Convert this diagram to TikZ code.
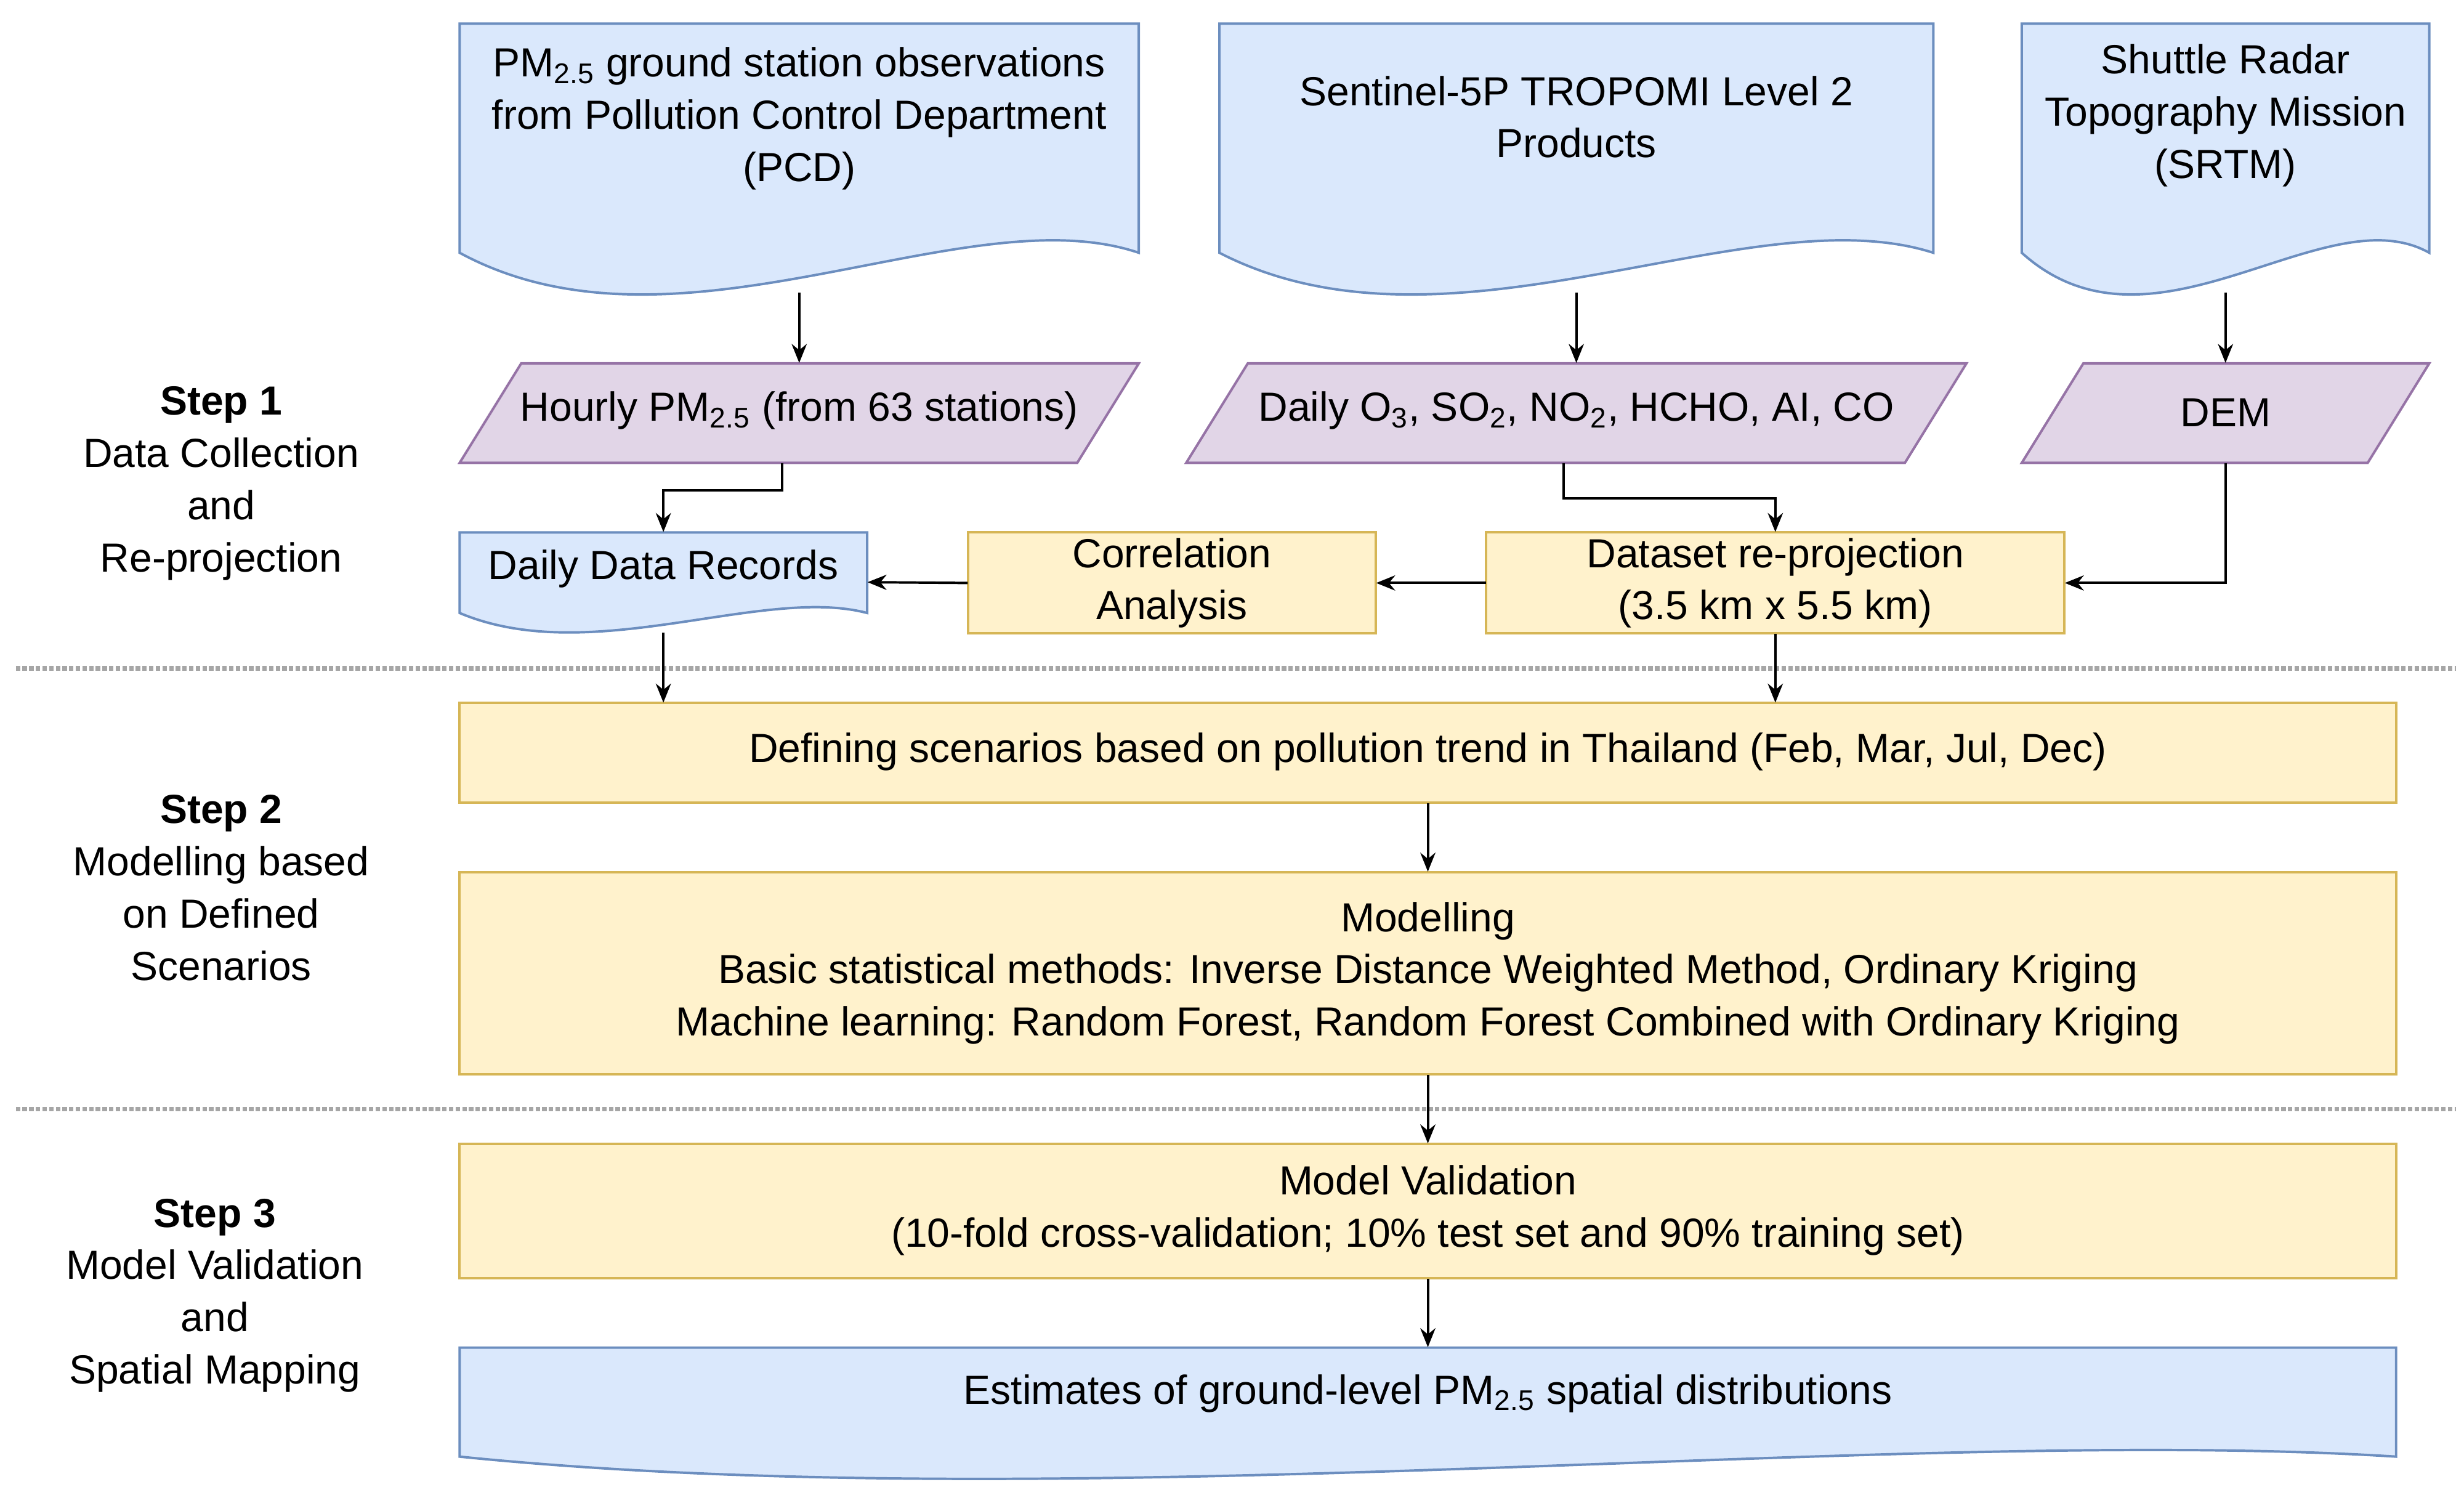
\documentclass[tikz,border=0pt]{standalone}
\usepackage{fontspec}
\setmainfont{Liberation Sans}
\usetikzlibrary{arrows.meta}
\definecolor{bfill}{HTML}{DAE8FC}\definecolor{bline}{HTML}{6C8EBF}
\definecolor{pfill}{HTML}{E1D5E7}\definecolor{pline}{HTML}{9673A6}
\definecolor{yfill}{HTML}{FFF2CC}\definecolor{yline}{HTML}{D6B656}
\newcommand\boxnode[5]{\node[inner sep=0,minimum width={(#4-#2)*0.025cm},minimum height={(#5-#3)*0.025cm}] (#1) at ({(#2+#4)/2},{(#3+#5)/2}) {};}
\newcommand\docpath[5]{\draw[doc] (#1,#3)--(#2,#3)--(#2,#4) .. controls ({#2-0.258*(#2-#1)},{#4-0.5*#5}) and ({#1+0.322*(#2-#1)},{#4+#5}) .. (#1,#4) -- cycle;}
\begin{document}
\begin{tikzpicture}[x=0.025cm,y=-0.025cm,
  txt/.style={font=\fontsize{18.3}{23.5}\selectfont,align=center,inner sep=0},
  doc/.style={fill=bfill,draw=bline,line width=1.1pt},
  par/.style={fill=pfill,draw=pline,line width=1.1pt},
  yb/.style={fill=yfill,draw=yline,line width=1.1pt},
  arr/.style={-{Stealth[length=0.3cm,width=0.24cm]},line width=1.1pt},
  dots/.style={densely dotted,draw=gray!70,line width=2pt}]
\useasboundingbox (0,0) rectangle (1560,946);
% documents
\docpath{291}{721}{15}{160}{75}\boxnode{d1}{291}{15}{721}{185}
\node[txt] at (506,75) {PM\textsubscript{2.5} ground station observations\\from Pollution Control Department\\(PCD)};
\docpath{772}{1224}{15}{160}{75}\boxnode{d2}{772}{15}{1224}{185}
\node[txt] at (998,74) {Sentinel-5P TROPOMI Level 2\\Products};
\docpath{1280}{1538}{15}{160}{75}\boxnode{d3}{1280}{15}{1538}{185}
\node[txt] at (1409,73) {Shuttle Radar\\Topography Mission\\(SRTM)};
% parallelograms
\draw[par] (330,230)--(721,230)--(682,293)--(291,293)--cycle;\boxnode{p1}{291}{230}{721}{293}
\node[txt] at (506,260) {Hourly PM\textsubscript{2.5} (from 63 stations)};
\draw[par] (790,230)--(1245,230)--(1206,293)--(751,293)--cycle;\boxnode{p2}{751}{230}{1245}{293}
\node[txt] at (998,260) {Daily O\textsubscript{3}, SO\textsubscript{2}, NO\textsubscript{2}, HCHO, AI, CO};
\draw[par] (1319,230)--(1538,230)--(1499,293)--(1280,293)--cycle;\boxnode{p3}{1280}{230}{1538}{293}
\node[txt] at (1409,261) {DEM};
% row 3
\docpath{291}{549}{337}{388}{35}\boxnode{ddr}{291}{337}{549}{400}
\node[txt] at (420,360) {Daily Data Records};
\draw[yb] (613,337) rectangle (871,401);\boxnode{ca}{613}{337}{871}{401}
\node[txt] at (742,369) {Correlation\\Analysis};
\draw[yb] (941,337) rectangle (1307,401);\boxnode{ds}{941}{337}{1307}{401}
\node[txt] at (1124,369) {Dataset re-projection\\(3.5 km x 5.5 km)};
% lower
\draw[yb] (291,445) rectangle (1517,508);\boxnode{def}{291}{445}{1517}{508}
\node[txt] at (904,476) {Defining scenarios based on pollution trend in Thailand (Feb, Mar, Jul, Dec)};
\draw[yb] (291,552) rectangle (1517,680);\boxnode{mod}{291}{552}{1517}{680}
\node[txt] at (904,616) {Modelling\\Basic statistical methods: Inverse Distance Weighted Method, Ordinary Kriging\\Machine learning: Random Forest, Random Forest Combined with Ordinary Kriging};
\draw[yb] (291,724) rectangle (1517,809);\boxnode{val}{291}{724}{1517}{809}
\node[txt] at (904,766) {Model Validation\\(10-fold cross-validation; 10\% test set and 90\% training set)};
\docpath{291}{1517}{853}{922}{40}\boxnode{est}{291}{853}{1517}{938}
\node[txt] at (904,882) {Estimates of ground-level PM\textsubscript{2.5} spatial distributions};
% dotted separators
\draw[dots] (10,423)--(1555,423);
\draw[dots] (10,702)--(1555,702);
% step labels
\node[txt] at (140,306) {\textbf{Step 1}\\Data Collection\\and\\Re-projection};
\node[txt] at (140,562) {\textbf{Step 2}\\Modelling based\\on Defined\\Scenarios};
\node[txt] at (136,820) {\textbf{Step 3}\\Model Validation\\and\\Spatial Mapping};
% arrows
\draw[arr] (d1.south)--(p1.north);
\draw[arr] (d2.south)--(p2.north);
\draw[arr] (d3.south)--(p3.north);
\draw[arr] ([xshift=-0.275cm]p1.south)--++(0,17)-|(ddr.north);
\draw[arr] ([xshift=-0.2cm]p2.south)--++(0,22)-|(ds.north);
\draw[arr] (p3.south)|-(ds.east);
\draw[arr] (ds.west)--(ca.east);
\draw[arr] (ca.west)--(ddr.east);
\draw[arr] (ddr.south)--(ddr.south|-def.north);
\draw[arr] (ds.south)--(ds.south|-def.north);
\draw[arr] (def.south)--(mod.north);
\draw[arr] (mod.south)--(val.north);
\draw[arr] (val.south)--(est.north);
\end{tikzpicture}
\end{document}
